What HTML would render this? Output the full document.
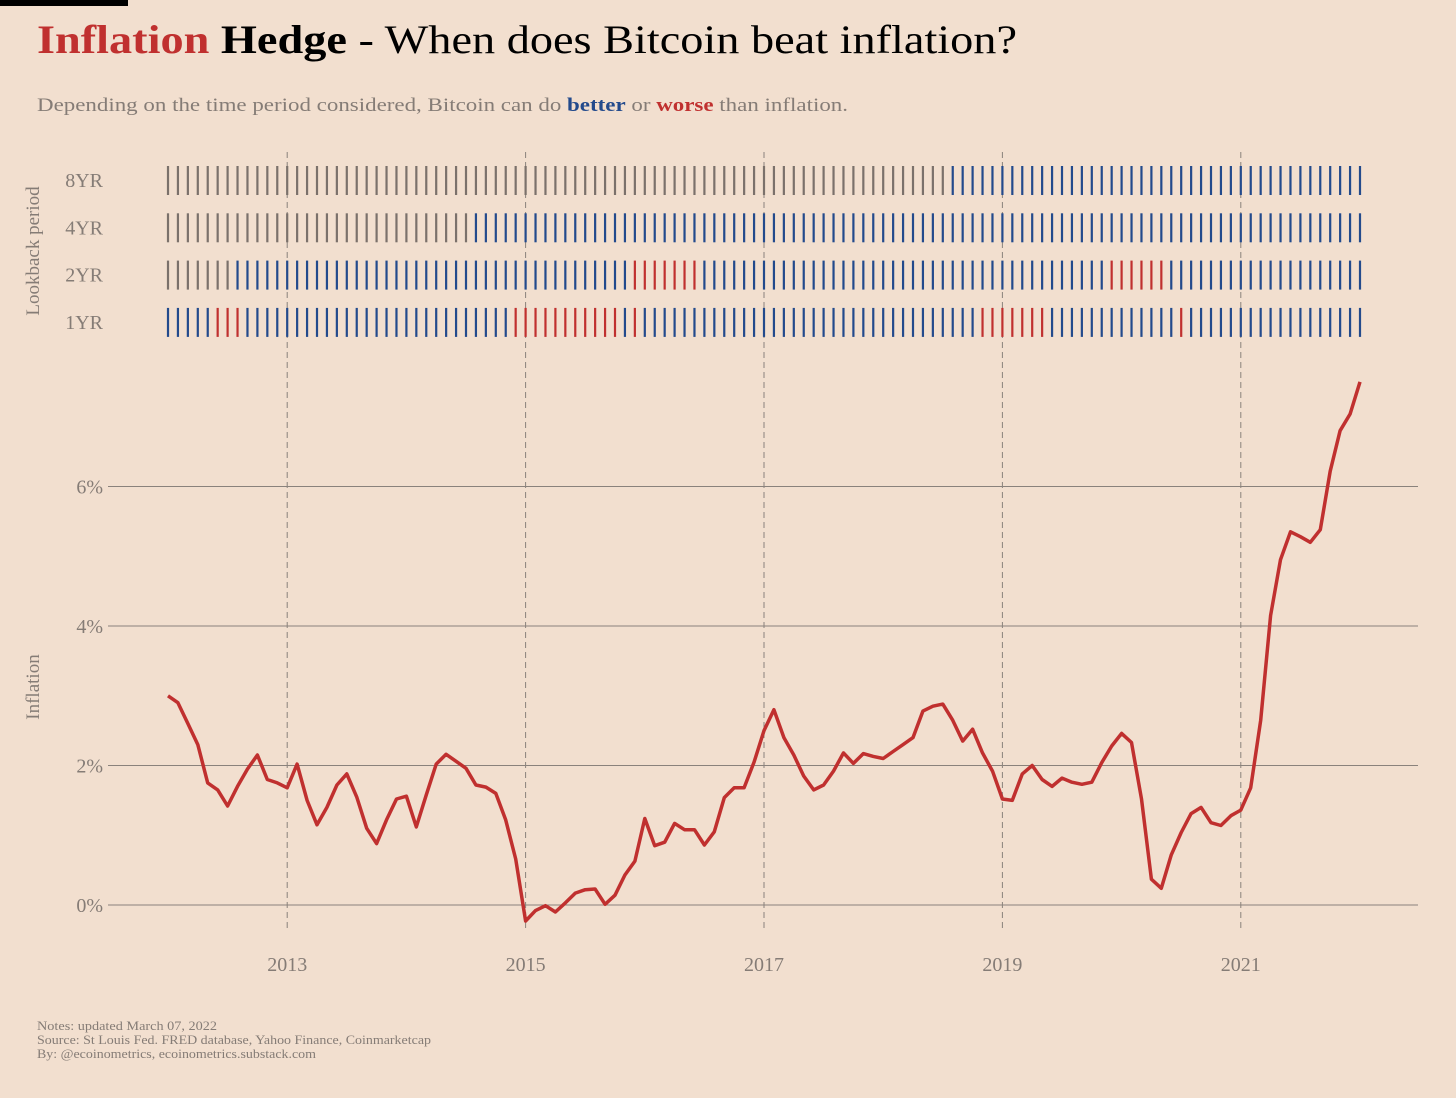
<!DOCTYPE html>
<html><head><meta charset="utf-8"><style>
html,body{margin:0;padding:0;background:#f2dfcf;}
svg{display:block;font-family:"Liberation Serif",serif;}
</style></head><body>
<svg id="c" width="1456" height="1098" viewBox="0 0 1456 1098">
<rect width="1456" height="1098" fill="#f2dfcf"/>
<rect x="0" y="0" width="128" height="6" fill="#000"/>
<text x="37" y="53" font-size="40" textLength="980" lengthAdjust="spacingAndGlyphs"><tspan fill="#c0302f" font-weight="bold">Inflation</tspan> <tspan fill="#000" font-weight="bold">Hedge</tspan><tspan fill="#000"> - When does Bitcoin beat inflation?</tspan></text>
<text x="37" y="111" font-size="19" fill="#857c76" textLength="811" lengthAdjust="spacingAndGlyphs">Depending on the time period considered, Bitcoin can do <tspan fill="#234a8c" font-weight="bold">better</tspan> or <tspan fill="#c0302f" font-weight="bold">worse</tspan> than inflation.</text>
<text transform="translate(39,251) rotate(-90)" font-size="19" fill="#857c76" text-anchor="middle">Lookback period</text>
<text transform="translate(39,687) rotate(-90)" font-size="19" fill="#857c76" text-anchor="middle">Inflation</text>
<g id="grid"></g><g id="strips"></g><g id="line"></g>
<g font-size="13" fill="#857c76">
<text x="37" y="1030" textLength="180" lengthAdjust="spacingAndGlyphs">Notes: updated March 07, 2022</text>
<text x="37" y="1044" textLength="394" lengthAdjust="spacingAndGlyphs">Source: St Louis Fed. FRED database, Yahoo Finance, Coinmarketcap</text>
<text x="37" y="1058" textLength="279" lengthAdjust="spacingAndGlyphs">By: @ecoinometrics, ecoinometrics.substack.com</text>
</g>
</svg>
<script>
const years=[2013,2015,2017,2019,2021];
const yTicks=[0,2,4,6];
const rowLabels=['8YR','4YR','2YR','1YR'];
// status per month from 2012-01: g=gray(no data), b=better, r=worse
function runs(spec){const a=[];spec.forEach(([c,n])=>{for(let i=0;i<n;i++)a.push(c);});return a;}
const status8=runs([['g',79],['b',42]]);
const status4=runs([['g',31],['b',90]]);
const status2=runs([['g',7],['b',40],['r',7],['b',41],['r',6],['b',20]]);
const status1=runs([['b',5],['r',3],['b',27],['r',11],['b',1],['r',1],['b',34],['r',7],['b',13],['r',1],['b',18]]);
const inflation=[3.0,2.9,2.6,2.3,1.75,1.65,1.42,1.7,1.95,2.15,1.8,1.75,
1.68,2.02,1.5,1.15,1.4,1.72,1.88,1.55,1.1,0.88,1.22,1.52,
1.56,1.12,1.58,2.02,2.16,2.06,1.96,1.72,1.69,1.6,1.22,0.66,
-0.23,-0.08,-0.01,-0.1,0.03,0.17,0.22,0.23,0.01,0.14,0.43,0.63,
1.24,0.85,0.9,1.17,1.08,1.08,0.86,1.05,1.54,1.68,1.68,2.05,
2.5,2.8,2.4,2.15,1.85,1.65,1.72,1.92,2.18,2.03,2.17,2.13,
2.1,2.2,2.3,2.4,2.78,2.85,2.88,2.65,2.35,2.52,2.18,1.92,
1.52,1.5,1.88,2.0,1.8,1.7,1.82,1.76,1.73,1.76,2.04,2.28,
2.46,2.33,1.52,0.37,0.24,0.72,1.04,1.31,1.4,1.18,1.14,1.28,
1.36,1.68,2.65,4.15,4.95,5.35,5.28,5.2,5.38,6.22,6.8,7.04,7.5];
const NS='http://www.w3.org/2000/svg';
const xIdx=i=>168+i*(1192/120);
const xYear=y=>xIdx((y-2012)*12);
const yv=v=>905-v*69.75;
function mk(tag,attrs,parent){const e=document.createElementNS(NS,tag);for(const k in attrs)e.setAttribute(k,attrs[k]);parent.appendChild(e);return e;}
const grid=document.getElementById('grid');
yTicks.forEach(t=>{
 const l=mk('line',{x1:108,x2:1418,y1:yv(t),y2:yv(t),stroke:'#8a827c','stroke-width':1},grid);
 
 
 const tx=mk('text',{x:103,y:yv(t)+7,'text-anchor':'end','font-size':20,fill:'#857c76'},grid);
 tx.textContent=t+'%';
 
 
});
years.forEach(y=>{
 const l=mk('line',{x1:xYear(y),x2:xYear(y),y1:152,y2:930,stroke:'#8a827c','stroke-width':1,'stroke-dasharray':'6,4'},grid);
 
 
 const tx=mk('text',{x:xYear(y),y:971,'text-anchor':'middle','font-size':20,fill:'#857c76'},grid);
 tx.textContent=y;
 
 
});
const strips=document.getElementById('strips');
const cols={g:'#7b716b',b:'#234a8c',r:'#c0302f'};
[status8,status4,status2,status1].forEach((st,r)=>{
 const cy=180+r*47.3;
 const lab=mk('text',{x:103,y:cy+7,'text-anchor':'end','font-size':20,fill:'#857c76'},strips);
 lab.textContent=rowLabels[r];
 
 
 st.forEach((s,i)=>{
  const t=mk('rect',{x:xIdx(i)-1.1,y:cy-14,width:2.2,height:29,fill:cols[s]},strips);
  
  
 });
});
const lg=document.getElementById('line');
const p=mk('path',{d:inflation.map((v,i)=>(i?'L':'M')+xIdx(i).toFixed(1)+','+yv(v).toFixed(1)).join(''),fill:'none',stroke:'#c0302f','stroke-width':3.5,'stroke-linejoin':'round'},lg);


</script>
</body></html>
